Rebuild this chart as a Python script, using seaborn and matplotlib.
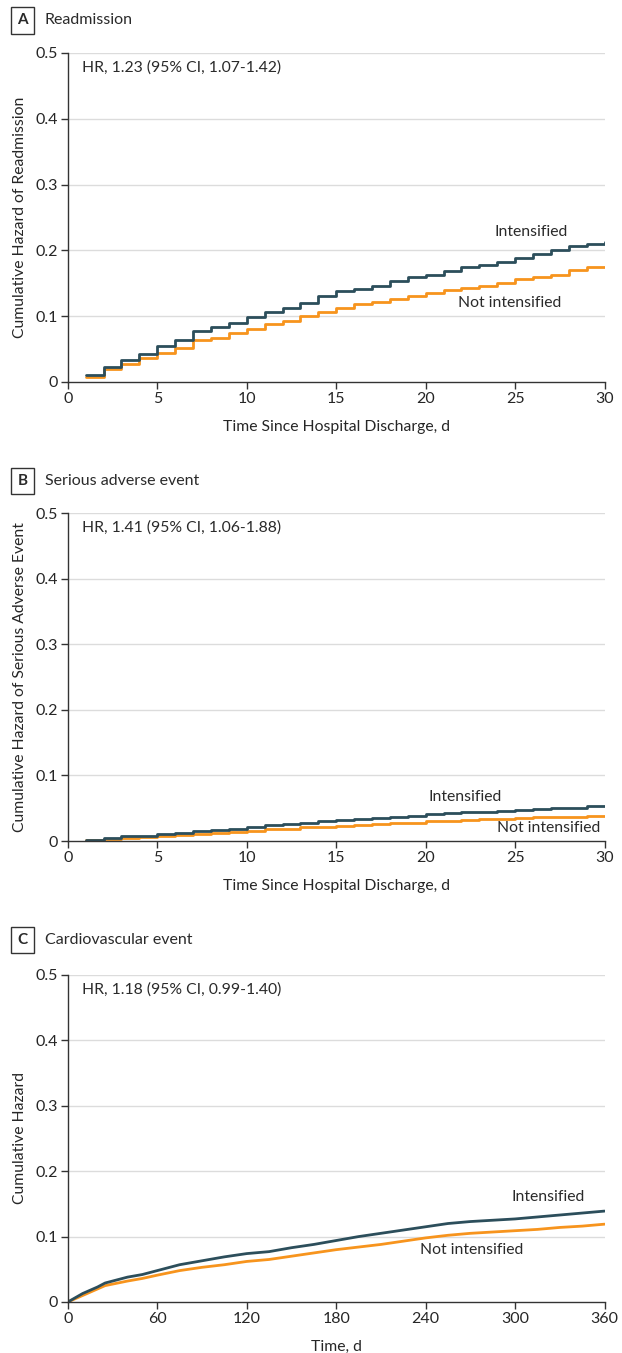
import numpy as np
import pandas as pd
import matplotlib
matplotlib.use("Agg")
import matplotlib.pyplot as plt
import seaborn as sns

# Panel A - Readmission (daily steps, days 1..30)
days_30 = list(range(1, 31))
readm_int = [0.010, 0.022, 0.034, 0.043, 0.054, 0.064, 0.077, 0.083, 0.089, 0.098,
             0.107, 0.113, 0.120, 0.130, 0.138, 0.141, 0.146, 0.154, 0.159, 0.163,
             0.169, 0.174, 0.177, 0.183, 0.189, 0.195, 0.200, 0.206, 0.210, 0.212]
readm_not = [0.007, 0.019, 0.028, 0.036, 0.044, 0.052, 0.063, 0.067, 0.074, 0.081,
             0.088, 0.093, 0.100, 0.107, 0.113, 0.118, 0.121, 0.126, 0.131, 0.135,
             0.140, 0.143, 0.146, 0.150, 0.156, 0.160, 0.163, 0.170, 0.174, 0.175]

# Panel B - Serious adverse event
sae_int = [0.002, 0.005, 0.007, 0.008, 0.010, 0.012, 0.015, 0.017, 0.019, 0.022,
           0.024, 0.026, 0.028, 0.030, 0.032, 0.034, 0.035, 0.036, 0.038, 0.041,
           0.042, 0.044, 0.045, 0.046, 0.048, 0.049, 0.050, 0.051, 0.053, 0.054]
sae_not = [0.001, 0.003, 0.005, 0.006, 0.007, 0.009, 0.011, 0.012, 0.014, 0.016,
           0.018, 0.019, 0.021, 0.022, 0.023, 0.025, 0.026, 0.027, 0.028, 0.030,
           0.031, 0.032, 0.033, 0.034, 0.035, 0.036, 0.036, 0.037, 0.038, 0.038]

# Panel C - Cardiovascular event (1 year)
days_360 = [0, 10, 20, 25, 40, 50, 60, 75, 90, 105, 120, 135, 150, 165, 180, 195,
            210, 225, 240, 255, 270, 285, 300, 315, 330, 345, 360]
cv_int = [0, 0.013, 0.023, 0.029, 0.038, 0.042, 0.048, 0.057, 0.063, 0.069, 0.074,
          0.077, 0.083, 0.088, 0.094, 0.100, 0.105, 0.110, 0.115, 0.120, 0.123,
          0.125, 0.127, 0.130, 0.133, 0.136, 0.139]
cv_not = [0, 0.010, 0.020, 0.025, 0.032, 0.036, 0.041, 0.048, 0.053, 0.057, 0.062,
          0.065, 0.070, 0.075, 0.080, 0.084, 0.088, 0.093, 0.098, 0.102, 0.105,
          0.107, 0.109, 0.111, 0.114, 0.116, 0.119]

C_INT = "#2c4e5b"
C_NOT = "#f7941d"

sns.set_theme(style="white")
plt.rcParams["font.family"] = ["Lato", "DejaVu Sans"]
plt.rcParams["text.color"] = "#2a2a2a"

fig = plt.figure(figsize=(6.22, 13.53), dpi=100)

panels = [
    dict(letter="A", title="Readmission", rect=[0.109, 0.7177, 0.863, 0.2432],
         x=days_30, yi=readm_int, yn=readm_not, step=True, xmax=30, xticks=range(0, 31, 5),
         ylabel="Cumulative Hazard of Readmission", xlabel="Time Since Hospital Discharge, d",
         hr="HR, 1.23 (95% CI, 1.07-1.42)", li=(25.9, 0.228), ln=(24.7, 0.120), head_y=0.985),
    dict(letter="B", title="Serious adverse event", rect=[0.109, 0.3784, 0.863, 0.2424],
         x=days_30, yi=sae_int, yn=sae_not, step=True, xmax=30, xticks=range(0, 31, 5),
         ylabel="Cumulative Hazard of Serious Adverse Event", xlabel="Time Since Hospital Discharge, d",
         hr="HR, 1.41 (95% CI, 1.06-1.88)", li=(22.2, 0.067), ln=(26.9, 0.020), head_y=0.6445),
    dict(letter="C", title="Cardiovascular event", rect=[0.109, 0.0377, 0.863, 0.2417],
         x=days_360, yi=cv_int, yn=cv_not, step=False, xmax=360, xticks=range(0, 361, 60),
         ylabel="Cumulative Hazard", xlabel="Time, d",
         hr="HR, 1.18 (95% CI, 0.99-1.40)", li=(321.8, 0.160), ln=(270.8, 0.080), head_y=0.3053),
]

FS = 11.3

for p in panels:
    ax = fig.add_axes(p["rect"])
    df = pd.DataFrame({"t": p["x"], "Intensified": p["yi"], "Not intensified": p["yn"]})
    ds = "steps-post" if p["step"] else "default"
    sns.lineplot(data=df, x="t", y="Not intensified", color=C_NOT, lw=2, ax=ax, drawstyle=ds)
    sns.lineplot(data=df, x="t", y="Intensified", color=C_INT, lw=2, ax=ax, drawstyle=ds)

    ax.set_xlim(0, p["xmax"])
    ax.set_ylim(0, 0.5)
    ax.set_xticks(list(p["xticks"]))
    ax.set_yticks([0, 0.1, 0.2, 0.3, 0.4, 0.5])
    ax.set_yticklabels(["0", "0.1", "0.2", "0.3", "0.4", "0.5"])
    for yv in [0.1, 0.2, 0.3, 0.4, 0.5]:
        ax.axhline(yv, color="#dcdcdc", lw=1, zorder=0)
    for s in ["top", "right"]:
        ax.spines[s].set_visible(False)
    for s in ["left", "bottom"]:
        ax.spines[s].set_color("#333333")
        ax.spines[s].set_linewidth(1)
    ax.tick_params(axis="both", direction="out", length=5, width=1, color="#333333",
                   labelsize=11.5, pad=2, bottom=True, left=True)
    ax.set_ylabel(p["ylabel"], fontsize=FS, labelpad=6)
    ax.set_xlabel(p["xlabel"], fontsize=FS, labelpad=10)

    ax.text(0.027, 0.955, p["hr"], transform=ax.transAxes, fontsize=FS, va="center", ha="left")
    ax.text(p["li"][0], p["li"][1], "Intensified", fontsize=FS, ha="center", va="center")
    ax.text(p["ln"][0], p["ln"][1], "Not intensified", fontsize=FS, ha="center", va="center")

    fig.text(0.036, p["head_y"], p["letter"], fontsize=11, fontweight="bold", ha="center", va="center",
             bbox=dict(boxstyle="square,pad=0.42", fc="white", ec="#333333", lw=1))
    fig.text(0.072, p["head_y"], p["title"], fontsize=11.5, ha="left", va="center")

fig.savefig("out.png", dpi=100)
